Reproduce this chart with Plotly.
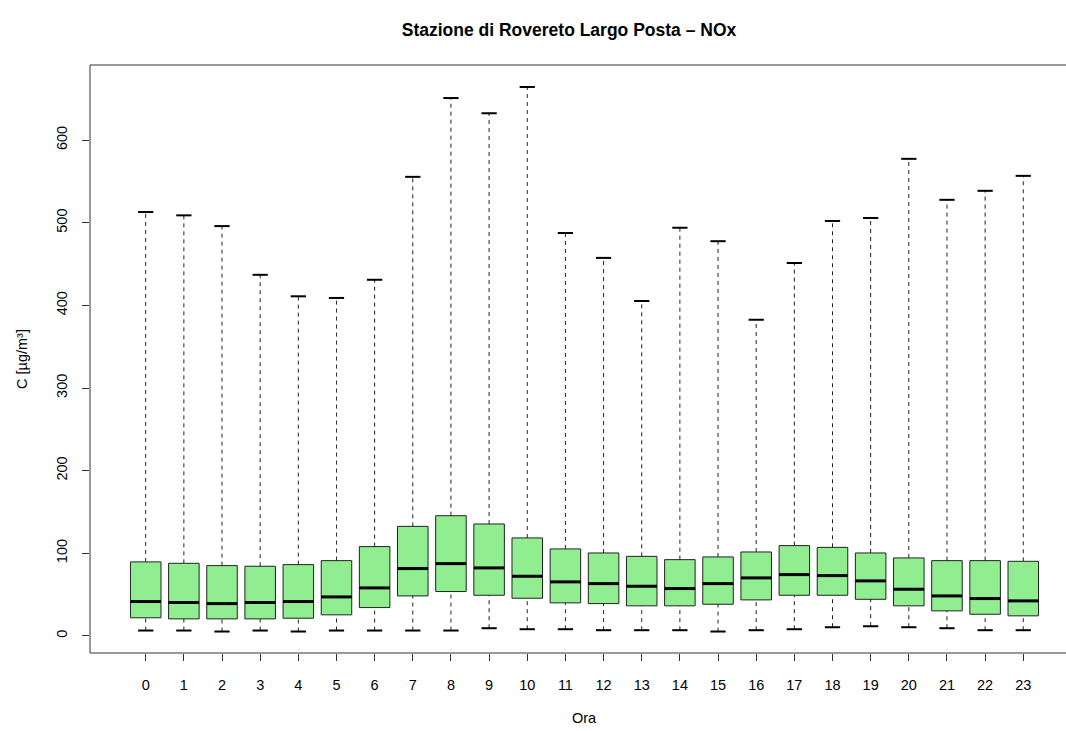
import plotly.graph_objects as go

hours = list(range(24))
tick_labels = [str(h) for h in hours]
q1 = [21.8, 20.5, 20.5, 20.5, 21.3, 25.4, 34.2, 48.3, 53.6, 49.1, 45.5, 39.9,
      39.0, 36.3, 36.3, 38.2, 43.5, 49.1, 49.1, 44.2, 36.3, 30.2, 26.1, 24.2]
median = [41.5, 40.3, 39.0, 40.3, 41.5, 47.1, 58.0, 81.4, 87.4, 82.2, 72.1, 65.3,
          63.2, 60.0, 57.2, 63.2, 70.1, 74.1, 72.9, 66.5, 56.4, 48.3, 45.1, 42.3]
q3 = [89.5, 87.8, 85.0, 84.2, 86.2, 91.0, 108.0, 132.5, 145.4, 135.4, 118.5, 105.2,
      100.3, 96.2, 92.2, 95.5, 101.5, 109.2, 107.1, 100.3, 94.3, 91.0, 91.0, 90.2]
vmin = [6.4, 6.4, 5.2, 6.4, 5.2, 6.4, 6.4, 6.4, 6.4, 9.2, 8.0, 8.0,
        6.8, 6.8, 6.8, 5.2, 6.8, 8.0, 10.4, 11.6, 10.4, 9.2, 6.8, 6.8]
vmax = [513, 509, 496, 437, 411, 409, 431, 555.6, 651, 632.6, 664.4, 487.6,
        457.5, 405.3, 494, 477.7, 382.6, 451.3, 502.2, 505.8, 577.4, 527.8, 538.7, 556.8]

BOX_W = 0.8
CAP_W = 0.4

fig = go.Figure()

# whiskers (dashed)
wx, wy = [], []
for h, a, b, c, d in zip(hours, vmin, q1, q3, vmax):
    wx += [h, h, None, h, h, None]
    wy += [a, b, None, c, d, None]
fig.add_trace(go.Scatter(x=wx, y=wy, mode="lines",
                         line=dict(color="#222222", width=1, dash="4px,4px"),
                         hoverinfo="skip", showlegend=False))

# caps
cx, cy = [], []
for h, a, d in zip(hours, vmin, vmax):
    cx += [h - CAP_W / 2, h + CAP_W / 2, None, h - CAP_W / 2, h + CAP_W / 2, None]
    cy += [a, a, None, d, d, None]
fig.add_trace(go.Scatter(x=cx, y=cy, mode="lines",
                         line=dict(color="black", width=2),
                         hoverinfo="skip", showlegend=False))

# boxes
fig.add_trace(go.Bar(x=hours, y=[c - b for b, c in zip(q1, q3)], base=q1,
                     width=BOX_W, marker=dict(color="#90EE90",
                                              line=dict(color="#222222", width=1)),
                     showlegend=False))

# medians
mx, my = [], []
for h, m in zip(hours, median):
    mx += [h - BOX_W / 2, h + BOX_W / 2, None]
    my += [m, m, None]
fig.add_trace(go.Scatter(x=mx, y=my, mode="lines",
                         line=dict(color="black", width=3),
                         hoverinfo="skip", showlegend=False))

W, H = 1066, 731
ML, MT, MB = 90, 65, 78
plot_w = W - ML
unit = 38.155
x0 = -1.46
x1 = x0 + plot_w / unit
plot_h = H - MT - MB
r_right_px = ML + 25.92 * unit  # R plot region right edge (cropped)
center_px = (ML + r_right_px) / 2

font = "Liberation Sans, Arial, Helvetica, sans-serif"
FS = 14.5
fig.update_layout(
    width=W, height=H,
    margin=dict(l=ML, r=0, t=MT, b=MB, pad=0),
    plot_bgcolor="white", paper_bgcolor="white",
    barmode="overlay",
    font=dict(family=font, size=FS, color="black"),
    title=dict(text="<b>Stazione di Rovereto Largo Posta – NOx</b>",
               x=569 / W, xref="container", xanchor="center",
               y=1 - 30 / H, yref="container", yanchor="middle",
               font=dict(family=font, size=17.5, color="black")),
    xaxis=dict(range=[x0, x1], tickmode="array", tickvals=hours, ticktext=tick_labels,
               ticks="outside", ticklen=7, tickcolor="#333333", showgrid=False,
               zeroline=False, showline=False, tickfont=dict(size=FS),
               ticklabelstandoff=12),
    yaxis=dict(range=[-20.8, 691], tickmode="array", tickvals=[0, 100, 200, 300, 400, 500, 600],
               ticks="outside", ticklen=7, tickcolor="#333333", showgrid=False,
               zeroline=False, showline=False, tickangle=-90, tickfont=dict(size=FS),
               ticklabelstandoff=9),
    annotations=[
        dict(text="Ora", xref="paper", yref="paper",
             x=(center_px - ML) / plot_w, y=-(718 - (MT + plot_h)) / plot_h,
             xanchor="center", yanchor="middle", showarrow=False,
             font=dict(size=FS)),
        dict(text="C [µg/m³]", xref="paper", yref="paper",
             x=(22 - ML) / plot_w, y=0.5, textangle=-90,
             xanchor="center", yanchor="middle", showarrow=False,
             font=dict(size=FS)),
    ],
    shapes=[dict(type="rect", xref="paper", yref="paper",
                 x0=0, x1=(r_right_px - ML) / plot_w, y0=0, y1=1,
                 line=dict(color="#333333", width=1))],
)

fig.write_html("out.html", config={"displayModeBar": False},
               post_script="document.body.style.margin='0';document.body.style.overflow='hidden';")
